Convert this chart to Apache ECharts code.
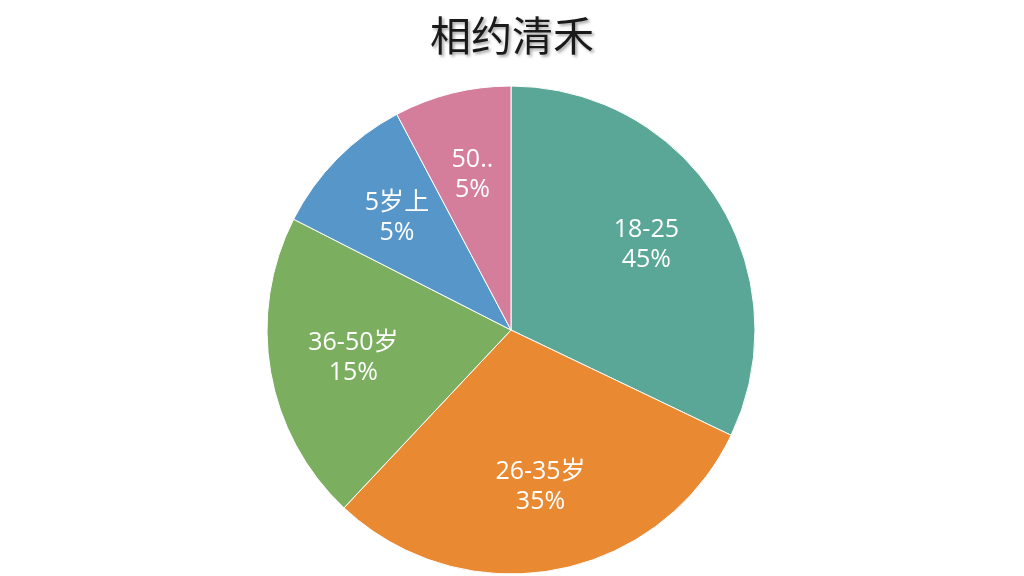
<!DOCTYPE html>
<html><head><meta charset="utf-8">
<script src="https://cdn.jsdelivr.net/npm/echarts@6/dist/echarts.min.js"></script>
<style>html,body{margin:0;padding:0;background:#fff}#c{width:1024px;height:576px}</style>
</head><body><div id="c"></div>
<script>
const categories = ['18-25', '26-35岁', '36-50岁', '5岁上', '50..'];
const sliceValues = [32.1, 29.9, 20.5, 9.75, 7.75];
const labelPercents = ['45%', '35%', '15%', '5%', '5%'];
const colors = ['#5AA798', '#E98A33', '#7BAF5F', '#5796C8', '#D47E9C'];

const data = categories.map((c, i) => ({ name: c, value: sliceValues[i], pct: labelPercents[i] }));
const chart = echarts.init(document.getElementById('c'));
chart.setOption({
  backgroundColor: '#ffffff',
  color: colors,
  title: {
    text: '相约清禾', left: 'center', top: 10,
    textStyle: { fontFamily: 'Noto Sans CJK SC', fontSize: 41, fontWeight: 'normal', color: '#1a1a1a',
      textShadowColor: 'rgba(0,0,0,0.35)', textShadowBlur: 3, textShadowOffsetX: 2, textShadowOffsetY: 2 }
  },
  series: [{
    type: 'pie', center: [511, 330], radius: [0, 244], startAngle: 90, clockwise: true,
    label: { show: false }, labelLine: { show: false }, silent: true,
    itemStyle: { borderColor: '#ffffff', borderWidth: 1 },
    data: data
  }, {
    type: 'pie', center: [511, 330], radius: [70, 244], startAngle: 90, clockwise: true,
    silent: true,
    itemStyle: { color: 'rgba(0,0,0,0)' },
    label: { show: true, position: 'inside', color: '#ffffff', fontFamily: 'Open Sans, Noto Sans CJK SC', fontSize: 25, lineHeight: 30,
      formatter: p => p.name + '\n' + p.data.pct },
    labelLine: { show: false },
    data: data
  }]
});
</script></body></html>
